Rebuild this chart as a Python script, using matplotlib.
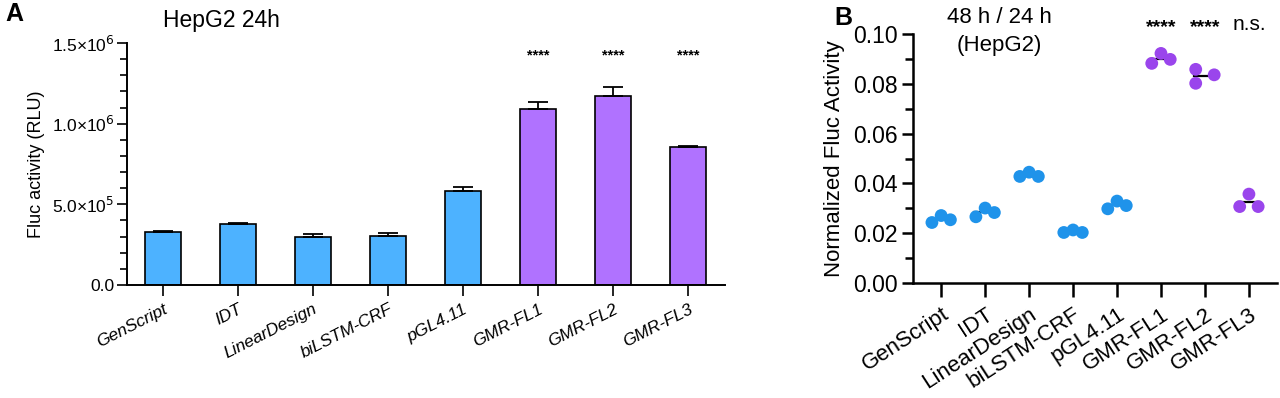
import numpy as np
import matplotlib
matplotlib.use('Agg')
import matplotlib.pyplot as plt
from matplotlib.ticker import MultipleLocator

plt.rcParams['font.family'] = ['Liberation Sans', 'DejaVu Sans']

categorias = ['GenScript', 'IDT', 'LinearDesign', 'biLSTM-CRF', 'pGL4.11',
              'GMR-FL1', 'GMR-FL2', 'GMR-FL3']

# painel A: media e erro (RLU)
atividade_24h = [0.330e6, 0.377e6, 0.297e6, 0.302e6, 0.585e6, 1.090e6, 1.170e6, 0.858e6]
erro_24h = [0.004e6, 0.006e6, 0.018e6, 0.020e6, 0.024e6, 0.043e6, 0.055e6, 0.005e6]
signif_a = ['', '', '', '', '', '****', '****', '****']

# painel B: replicatas normalizadas 48h/24h
razao_rep = [
    [0.0243, 0.0271, 0.0254],
    [0.0266, 0.0301, 0.0283],
    [0.0428, 0.0445, 0.0428],
    [0.0203, 0.0213, 0.0203],
    [0.0298, 0.0329, 0.0311],
    [0.0882, 0.0922, 0.0898],
    [0.0858, 0.0802, 0.0836],
    [0.0307, 0.0357, 0.0307],
]
signif_b = ['', '', '', '', '', '****', '****', 'n.s.']

azul_barra = '#4db2ff'
roxo_barra = '#b072ff'
azul_ponto = '#1f93ea'
roxo_ponto = '#9a45ec'

fig = plt.figure(figsize=(12.8, 3.98), dpi=100)

# ---------- painel A ----------
ax = fig.add_axes([0.0992, 0.2839, 0.4672, 0.6081])
x = np.arange(len(categorias))
cores = [azul_barra] * 5 + [roxo_barra] * 3
ax.bar(x, atividade_24h, width=0.48, color=cores, edgecolor='black', linewidth=1.2, zorder=2)
for xi, v, e in zip(x, atividade_24h, erro_24h):
    ax.errorbar(xi, v, yerr=[[0], [e]], color='black', capsize=7, elinewidth=1.3,
                capthick=1.3, zorder=3)
for xi, s in zip(x, signif_a):
    if s:
        ax.text(xi, 1.42e6, s, ha='center', va='center', fontsize=10.5, fontweight='bold')
ax.set_xlim(-0.48, 7.49)
ax.set_ylim(0, 1.5e6)
ax.yaxis.set_major_locator(MultipleLocator(5e5))
ax.yaxis.set_minor_locator(MultipleLocator(1e5))
ax.set_yticks([0, 5e5, 1e6, 1.5e6])
ax.set_yticklabels(['0.0', r'5.0×10$^5$', r'1.0×10$^6$', r'1.5×10$^6$'], fontsize=12.5)
ax.set_xticks(x)
ax.set_xticklabels(categorias, rotation=27, ha='right', rotation_mode='anchor',
                   fontsize=12.5, style='italic')
ax.tick_params(axis='x', length=8, width=1.2, pad=4)
ax.tick_params(axis='y', which='major', length=7, width=1.2, pad=2)
ax.tick_params(axis='y', which='minor', length=5, width=1.2)
for lado in ['top', 'right']:
    ax.spines[lado].set_visible(False)
for lado in ['left', 'bottom']:
    ax.spines[lado].set_linewidth(1.4)
ax.set_ylabel('Fluc activity (RLU)', fontsize=13, labelpad=5)
ax.set_title('HepG2 24h', fontsize=16.5, x=0.158, y=1.03, loc='center')
fig.text(0.004, 0.965, 'A', fontsize=18, fontweight='bold', va='center')

# ---------- painel B ----------
bx = fig.add_axes([0.7133, 0.2889, 0.2844, 0.6257])
desloc = [[-1, 0, 1], [-1, 0, 1], [-1, 0, 1], [-1, 0, 1], [-1, 0, 1],
          [-1, 0, 1], [-1, -1, 1], [-1, 0, 1]]
for i, reps in enumerate(razao_rep):
    cor = azul_ponto if i < 5 else roxo_ponto
    xs = [i + 0.21 * d for d in desloc[i]]
    bx.scatter(xs, reps, s=85, color=cor, edgecolors='none', zorder=3)
    m = np.mean(reps)
    bx.plot([i - 0.25, i + 0.25], [m, m], color='black', linewidth=1.6, zorder=2)
for i, s in enumerate(signif_b):
    if s == 'n.s.':
        bx.text(i, 0.1037, s, ha='center', va='center', fontsize=15)
    elif s:
        bx.text(i, 0.1025, s, ha='center', va='center', fontsize=14, fontweight='bold')
bx.set_xlim(-0.64, 7.64)
bx.set_ylim(0, 0.10)
bx.yaxis.set_major_locator(MultipleLocator(0.02))
bx.yaxis.set_minor_locator(MultipleLocator(0.01))
bx.yaxis.set_major_formatter(matplotlib.ticker.FormatStrFormatter('%.2f'))
bx.set_xticks(range(len(categorias)))
bx.set_xticklabels(categorias, rotation=33, ha='right', rotation_mode='anchor', fontsize=16)
for lbl in bx.get_yticklabels():
    lbl.set_fontsize(16.5)
bx.tick_params(axis='x', length=10, width=1.8, pad=5)
bx.tick_params(axis='y', which='major', length=8, width=1.8, pad=3)
bx.tick_params(axis='y', which='minor', length=6, width=1.8)
for lado in ['top', 'right']:
    bx.spines[lado].set_visible(False)
for lado in ['left', 'bottom']:
    bx.spines[lado].set_linewidth(1.8)
bx.set_ylabel('Normalized Fluc Activity', fontsize=16, labelpad=6)
fig.text(0.781, 0.955, '48 h / 24 h', fontsize=16, ha='center', va='center')
fig.text(0.781, 0.885, '(HepG2)', fontsize=16, ha='center', va='center')
fig.text(0.652, 0.955, 'B', fontsize=18, fontweight='bold', va='center')

fig.savefig('out.png', dpi=100)
